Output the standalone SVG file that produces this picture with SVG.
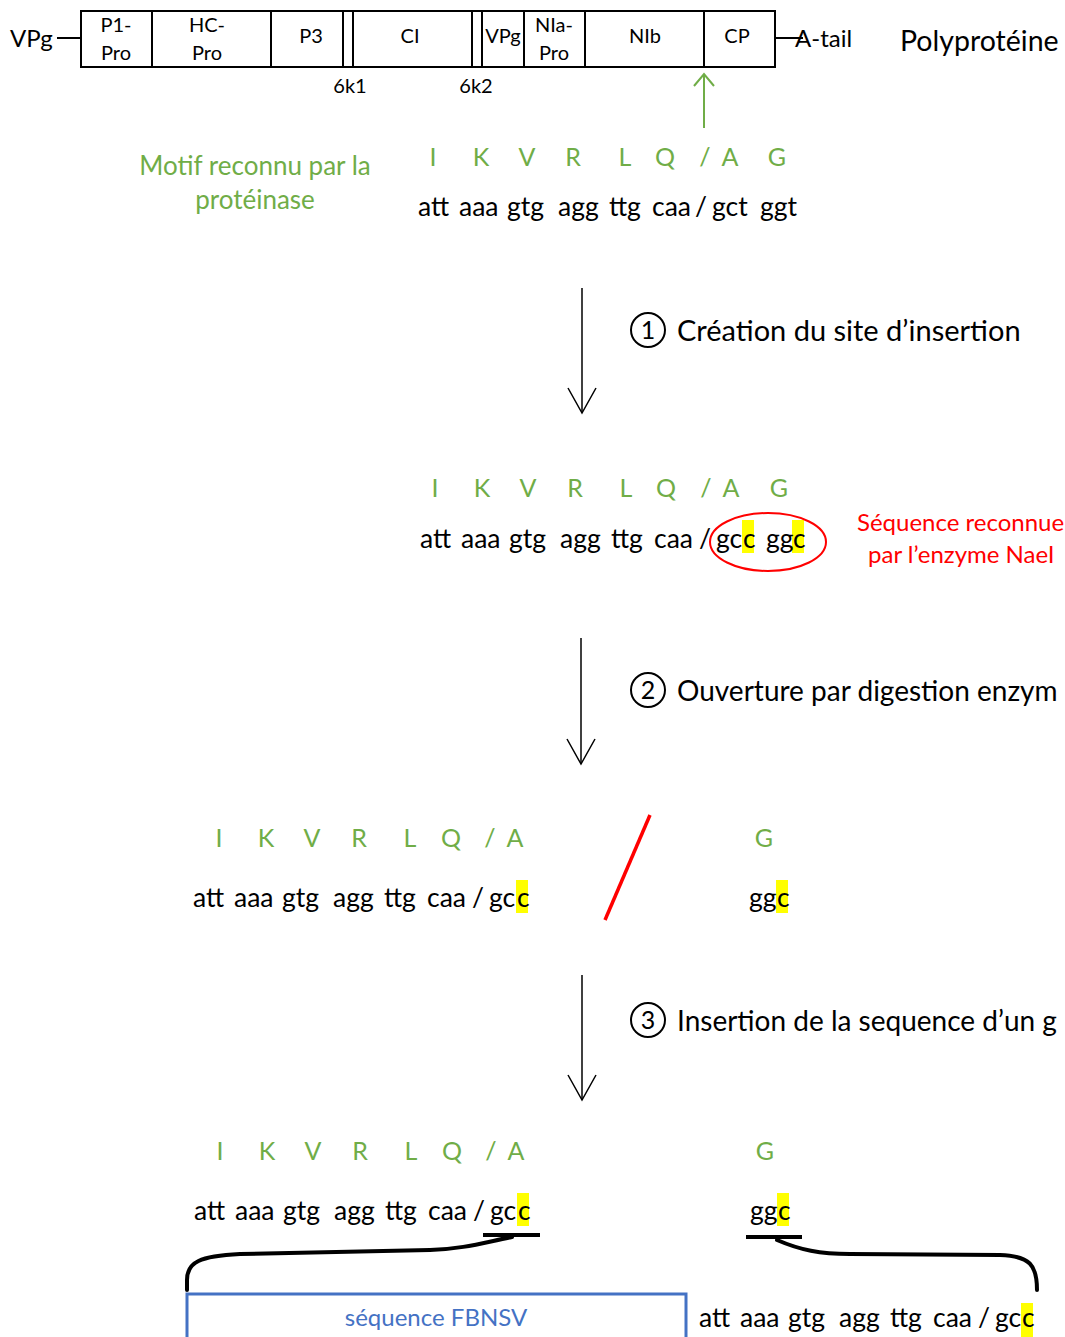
<svg xmlns="http://www.w3.org/2000/svg" width="1065" height="1337" viewBox="0 0 1065 1337">
<defs>
<style>
text{font-family:Lato,"Open Sans","Liberation Sans",sans-serif;}
.g{fill:#70AD47;font-size:25px;text-anchor:middle;}
.gm{fill:#70AD47;font-size:26px;text-anchor:middle;}
.dna{fill:#000;font-size:26.5px;}
.bar{font-size:20px;text-anchor:middle;fill:#000;}
.step{font-size:29px;fill:#000;}
.num{font-size:25px;fill:#000;text-anchor:middle;}
.red{fill:#FF0000;font-size:24px;}
.hl{fill:#FFFF00;}
.ln{stroke:#000;stroke-width:2;fill:none;}
.arr{stroke:#000;stroke-width:1.5;fill:none;}
.brace{stroke:#000;stroke-width:4;fill:none;stroke-linecap:round;}
</style>
</defs>
<rect width="1065" height="1337" fill="#fff"/>

<g id="polyprotein">
<line class="ln" x1="57" y1="38" x2="81" y2="38"/>
<text x="10" y="47" style="font-size:24px">VPg</text>
<rect x="81" y="11" width="694" height="56" class="ln"/>
<line class="ln" x1="152" y1="11" x2="152" y2="67"/>
<line class="ln" x1="271" y1="11" x2="271" y2="67"/>
<line class="ln" x1="343" y1="11" x2="343" y2="67"/>
<line class="ln" x1="353" y1="11" x2="353" y2="67"/>
<line class="ln" x1="472" y1="11" x2="472" y2="67"/>
<line class="ln" x1="482" y1="11" x2="482" y2="67"/>
<line class="ln" x1="524" y1="11" x2="524" y2="67"/>
<line class="ln" x1="585" y1="11" x2="585" y2="67"/>
<line class="ln" x1="704" y1="11" x2="704" y2="67"/>
<text class="bar" x="116" y="32">P1-</text>
<text class="bar" x="116" y="60">Pro</text>
<text class="bar" x="207" y="32">HC-</text>
<text class="bar" x="207" y="60">Pro</text>
<text class="bar" x="311" y="43">P3</text>
<text class="bar" x="410" y="43">CI</text>
<text class="bar" x="503" y="43">VPg</text>
<text class="bar" x="554" y="32">NIa-</text>
<text class="bar" x="554" y="60">Pro</text>
<text class="bar" x="645" y="43">NIb</text>
<text class="bar" x="737" y="43">CP</text>
<text class="bar" x="350" y="93">6k1</text>
<text class="bar" x="476" y="93">6k2</text>
<line class="ln" x1="775" y1="38" x2="803" y2="38"/>
<text x="795" y="47" style="font-size:24px">A-tail</text>
<text x="900" y="51" style="font-size:28.5px">Polyprotéine</text>
</g>

<g id="motif">
<line x1="704" y1="74" x2="704" y2="128" stroke="#70AD47" stroke-width="2"/>
<polyline points="694,86 704,74 714,86" fill="none" stroke="#70AD47" stroke-width="2"/>
<text class="gm" x="255" y="175">Motif reconnu par la</text>
<text class="gm" x="255" y="209">protéinase</text>
<g class="g"><text x="433" y="166">I</text><text x="481" y="166">K</text><text x="527" y="166">V</text><text x="573" y="166">R</text><text x="625" y="166">L</text><text x="665" y="166">Q</text><text x="705" y="166">/</text><text x="730" y="166">A</text><text x="777" y="166">G</text></g>
<g class="dna"><text x="418" y="216">att</text><text x="459" y="216">aaa</text><text x="507" y="216">gtg</text><text x="558" y="216">agg</text><text x="609" y="216">ttg</text><text x="652" y="216">caa</text><text x="695" y="216">/</text><text x="712" y="216">gct</text><text x="760" y="216">ggt</text></g>
</g>

<g id="step1">
<circle cx="648" cy="330" r="17" class="ln"/>
<text class="num" x="648" y="339">1</text>
<text class="step" x="677" y="341">Création du site d’insertion</text>
</g>

<g id="site">
<g class="g"><text x="435" y="497">I</text><text x="482" y="497">K</text><text x="528" y="497">V</text><text x="575" y="497">R</text><text x="626" y="497">L</text><text x="666" y="497">Q</text><text x="706" y="497">/</text><text x="731" y="497">A</text><text x="779" y="497">G</text></g>
<rect class="hl" x="742" y="520" width="12" height="33"/>
<rect class="hl" x="792" y="520" width="12" height="33"/>
<g class="dna"><text x="420" y="548">att</text><text x="461" y="548">aaa</text><text x="509" y="548">gtg</text><text x="560" y="548">agg</text><text x="611" y="548">ttg</text><text x="654" y="548">caa</text><text x="699" y="548">/</text><text x="716" y="548">gc</text><text x="743" y="548">c</text><text x="766" y="548">gg</text><text x="793" y="548">c</text></g>
<ellipse cx="768" cy="542" rx="58" ry="29" fill="none" stroke="#FF0000" stroke-width="2"/>
<text class="red" x="857" y="531">Séquence reconnue</text>
<text class="red" x="868" y="563">par l’enzyme NaeI</text>
</g>

<g id="step2">
<circle cx="648" cy="690" r="17" class="ln"/>
<text class="num" x="648" y="699">2</text>
<text class="step" x="677" y="701" style="font-size:28px">Ouverture par digestion enzym</text>
</g>

<g id="digest">
<g class="g"><text x="219" y="847">I</text><text x="266" y="847">K</text><text x="312" y="847">V</text><text x="359" y="847">R</text><text x="410" y="847">L</text><text x="451" y="847">Q</text><text x="490" y="847">/</text><text x="515" y="847">A</text><text x="764" y="847">G</text></g>
<rect class="hl" x="516" y="880" width="12" height="33"/>
<rect class="hl" x="776" y="880" width="12" height="33"/>
<g class="dna"><text x="193" y="907">att</text><text x="234" y="907">aaa</text><text x="282" y="907">gtg</text><text x="333" y="907">agg</text><text x="384" y="907">ttg</text><text x="427" y="907">caa</text><text x="472" y="907">/</text><text x="489" y="907">gc</text><text x="517" y="907">c</text><text x="749" y="907">gg</text><text x="777" y="907">c</text></g>
<line x1="650" y1="815" x2="605" y2="920" stroke="#FF0000" stroke-width="3.5"/>
</g>

<g id="step3">
<circle cx="648" cy="1020" r="17" class="ln"/>
<text class="num" x="648" y="1029">3</text>
<text class="step" x="677" y="1031" style="font-size:28px">Insertion de la sequence d’un g</text>
</g>

<g id="insert">
<g class="g"><text x="220" y="1160">I</text><text x="267" y="1160">K</text><text x="313" y="1160">V</text><text x="360" y="1160">R</text><text x="411" y="1160">L</text><text x="452" y="1160">Q</text><text x="491" y="1160">/</text><text x="516" y="1160">A</text><text x="765" y="1160">G</text></g>
<rect class="hl" x="517" y="1193" width="12" height="33"/>
<rect class="hl" x="777" y="1193" width="12" height="33"/>
<g class="dna"><text x="194" y="1220">att</text><text x="235" y="1220">aaa</text><text x="283" y="1220">gtg</text><text x="334" y="1220">agg</text><text x="385" y="1220">ttg</text><text x="428" y="1220">caa</text><text x="473" y="1220">/</text><text x="490" y="1220">gc</text><text x="518" y="1220">c</text><text x="750" y="1220">gg</text><text x="778" y="1220">c</text></g>
<line x1="483" y1="1235" x2="540" y2="1235" stroke="#000" stroke-width="4"/>
<line x1="746" y1="1237" x2="802" y2="1237" stroke="#000" stroke-width="4"/>
</g>

<g id="fbnsv">
<rect x="187" y="1294" width="499" height="60" fill="none" stroke="#4472C4" stroke-width="3"/>
<text x="436" y="1326" style="font-size:24px;fill:#4472C4;text-anchor:middle">séquence FBNSV</text>
</g>

<g id="downstream">
<rect class="hl" x="1021" y="1303" width="12" height="34"/>
<g class="dna"><text x="699" y="1327">att</text><text x="740" y="1327">aaa</text><text x="788" y="1327">gtg</text><text x="839" y="1327">agg</text><text x="890" y="1327">ttg</text><text x="933" y="1327">caa</text><text x="978" y="1327">/</text><text x="995" y="1327">gc</text><text x="1022" y="1327">c</text></g>
</g>

<g id="connectors">
<line class="arr" x1="582" y1="288" x2="582" y2="413"/>
<polyline class="arr" points="568,388 582,413 596,388"/>
<line class="arr" x1="581" y1="638" x2="581" y2="764"/>
<polyline class="arr" points="567,739 581,764 595,739"/>
<line class="arr" x1="582" y1="975" x2="582" y2="1100"/>
<polyline class="arr" points="568,1075 582,1100 596,1075"/>
<path class="brace" d="M187,1290 L187,1280 C187,1262 200,1256 240,1254 L430,1250 C462,1249 482,1243 512,1237"/>
<path class="brace" d="M777,1240 C800,1250 820,1254 850,1254 L1000,1255 C1030,1256 1037,1265 1037,1290"/>
</g>
</svg>
